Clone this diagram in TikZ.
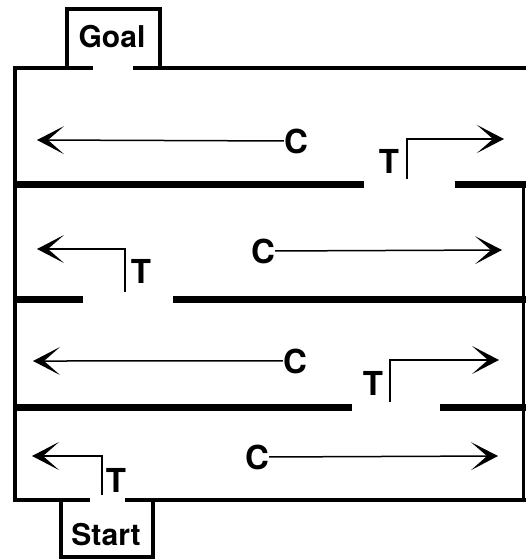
\documentclass[tikz,border=0pt]{standalone}
\usepackage{fontspec}
\setmainfont{TeX Gyre Heros}
\usetikzlibrary{arrows.meta}
\begin{document}
\begin{tikzpicture}[x=1pt,y=-1pt,
  wall/.style={line width=4pt,line cap=butt},
  divider/.style={line width=7pt,line cap=butt},
  boxwall/.style={line width=4pt,line join=miter},
  route/.style={line width=1.5pt,-{Stealth[length=27pt,width=28pt,inset=16pt]}},
  turn/.style={line width=1.5pt,line join=miter,-{Stealth[length=27pt,width=28pt,inset=16pt]}},
  bigtext/.style={font=\fontsize{30}{31}\selectfont\bfseries,inner sep=0pt,anchor=base},
  lbl/.style={font=\fontsize{33}{34}\selectfont\bfseries,inner sep=0pt,anchor=base}]
\useasboundingbox (0,0) rectangle (525,559);
% outer walls
\draw[wall] (15,66) -- (15,502);
\draw[wall] (13,68) -- (93,68);
\draw[wall] (133,68) -- (527,68);
\draw[wall] (13,500) -- (90,500);
\draw[wall] (125,500) -- (527,500);
\draw[line width=3pt] (523.5,184) -- (523.5,502);
% goal and start boxes
\draw[boxwall] (67,68) -- (67,9) -- (160,9) -- (160,68);
\draw[boxwall] (61,500) -- (61,557) -- (153,557) -- (153,500);
\node[bigtext] (goal) at (112,48) {Goal};
\node[bigtext] (start) at (106,545) {Start};
% dividers
\draw[divider] (13,184) -- (364,184);
\draw[divider] (455,184) -- (527,184);
\draw[divider] (13,299) -- (83,299);
\draw[divider] (173,299) -- (527,299);
\draw[divider] (13,407) -- (352,407);
\draw[divider] (440,407) -- (527,407);
% C routes
\node[lbl] (c1) at (296,153) {C};
\coordinate (c1end) at (37,140);
\draw[route] (c1.west) -- (c1end);
\node[lbl] (c2) at (263,263) {C};
\coordinate (c2end) at (502,250);
\draw[route] (c2.east) -- (c2end);
\node[lbl] (c3) at (295,373) {C};
\coordinate (c3end) at (33,361);
\draw[route] (c3.west) -- (c3end);
\node[lbl] (c4) at (257,469) {C};
\coordinate (c4end) at (498,456);
\draw[route] (c4.east) -- (c4end);
% T routes
\node[lbl] (t1) at (389,173) {T};
\coordinate (t1a) at (407,179);
\coordinate (t1b) at (407,139);
\coordinate (t1end) at (504,139);
\draw[turn] (t1a) -- (t1b) -- (t1end);
\node[lbl] (t2) at (141,283) {T};
\coordinate (t2a) at (125,292);
\coordinate (t2b) at (125,249);
\coordinate (t2end) at (37,249);
\draw[turn] (t2a) -- (t2b) -- (t2end);
\node[lbl] (t3) at (373,395) {T};
\coordinate (t3a) at (390,402);
\coordinate (t3b) at (390,360);
\coordinate (t3end) at (499,360);
\draw[turn] (t3a) -- (t3b) -- (t3end);
\node[lbl] (t4) at (116,492) {T};
\coordinate (t4a) at (102,495);
\coordinate (t4b) at (102,456);
\coordinate (t4end) at (32,456);
\draw[turn] (t4a) -- (t4b) -- (t4end);
\end{tikzpicture}
\end{document}
